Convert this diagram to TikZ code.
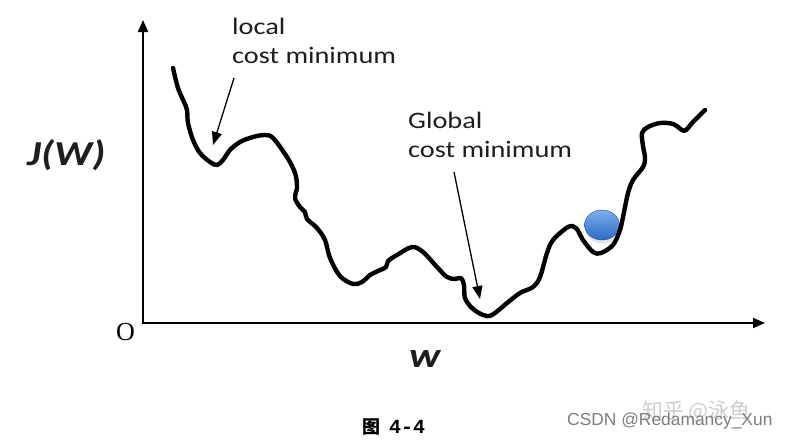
\documentclass[tikz,border=0pt]{standalone}
\usepackage{fontspec}
\usetikzlibrary{arrows.meta}
\newfontfamily\lblfont[FakeStretch=1.2]{Carlito}
\newfontfamily\axfont[FakeStretch=1.2]{Carlito}
\newfontfamily\serifo{Liberation Serif}
\newfontfamily\cjkfont{Noto Sans CJK SC}
\newfontfamily\monob{Liberation Mono}
\newfontfamily\wmfont{Liberation Sans}
\definecolor{txt}{RGB}{30,30,30}
\definecolor{balltop}{RGB}{125,175,235}
\definecolor{ballbot}{RGB}{45,105,200}
\definecolor{wmlight}{RGB}{205,205,205}
\definecolor{wmdark}{RGB}{125,125,125}
\tikzset{
  axisline/.style={line width=2pt,-{Triangle[length=12pt,width=10pt]}},
  annarrow/.style={line width=1.3pt,-{Triangle[length=13pt,width=10pt]}},
  curveline/.style={line width=4.4pt,line join=round,line cap=round},
  annlabel/.style={anchor=base west,inner sep=0pt,align=left,text=txt,
     font=\lblfont\fontsize{23.6}{29}\selectfont},
}
\begin{document}
\begin{tikzpicture}[x=1pt,y=-1pt]
\useasboundingbox (0,0) rectangle (786,445);
% axes
\coordinate (orig) at (143,323);
\coordinate (ytop) at (143,20);
\coordinate (xend) at (765,323);
\draw[axisline] (orig) -- (ytop);
\draw[axisline] ([xshift=-1pt]orig) -- (xend);
% ball
\fill[gray!35,opacity=0.6] (603,229) ellipse [x radius=17.5, y radius=14.5];
\shade[top color=balltop,bottom color=ballbot,draw=ballbot!80!black,line width=0.4pt]
  (602,225) ellipse [x radius=17.5, y radius=15];
% curve
\draw[curveline] plot[smooth,tension=0.55] coordinates {
 (173,68) (178,88) (184,102) (187,110) (188,123) (193,140) (200,153) (210,162)
 (217,165) (223,160) (230,150) (240,142) (253,137) (265,135) (273,138) (287,157)
 (295,173) (297,187) (295,198) (300,207) (305,212) (307,219) (317,228) (325,240)
 (330,258) (340,276) (353,284) (362,282) (370,275) (378,271) (386,267) (388,261)
 (397,255) (412,247) (423,252) (437,267) (447,277) (455,279) (461,278) (464,285)
 (465,298) (472,308) (483,315) (492,315) (507,303) (520,293) (533,287) (540,277)
 (547,253) (553,240) (568,227) (576,228) (583,240) (593,252) (601,253) (613,245)
 (620,230) (624,212) (628,193) (633,180) (643,167) (645,158) (643,146) (642,133)
 (648,127) (660,123) (673,124) (682,130) (686,130) (693,122) (705,110)};
% labels (anchor at the baseline of the last line)
\node[annlabel] (local) at (232,63) {local\\cost minimum};
\node[annlabel] (global) at (408,157) {Global\\cost minimum};
\coordinate (la1) at (234,78);
\coordinate (la2) at (213,145);
\coordinate (ga1) at (454,172);
\coordinate (ga2) at (480,299);
\draw[annarrow] (la1) -- (la2);
\draw[annarrow] (ga1) -- (ga2);
\node[anchor=base west,inner sep=0pt,text=txt,font=\axfont\fontsize{35}{35}\selectfont\bfseries\itshape] (jw) at (27,165) {J(W)};
\node[anchor=base west,inner sep=0pt,text=txt,font=\axfont\fontsize{35}{35}\selectfont\bfseries\itshape] (wlab) at (409,367) {w};
\node[anchor=base west,inner sep=0pt,font=\serifo\fontsize{26}{26}\selectfont] (olab) at (116,340) {O};
% caption
\node[anchor=base west,inner sep=0pt,font=\cjkfont\bfseries\fontsize{18}{18}\selectfont] (fig) at (362,433) {图};
\node[anchor=base west,inner sep=0pt,font=\monob\bfseries\fontsize{20}{20}\selectfont] (fignum) at (389,433) {4-4};
% watermarks
\node[anchor=base west,inner sep=0pt,text=wmlight,font=\cjkfont\fontsize{21}{21}\selectfont] (wm1) at (642,418) {知乎 @泳鱼};
\node[anchor=base west,inner sep=0pt,text=wmdark,font=\wmfont\fontsize{17.4}{17.4}\selectfont] (wm2) at (567,425) {CSDN @Redamancy\_Xun};
\end{tikzpicture}
\end{document}
